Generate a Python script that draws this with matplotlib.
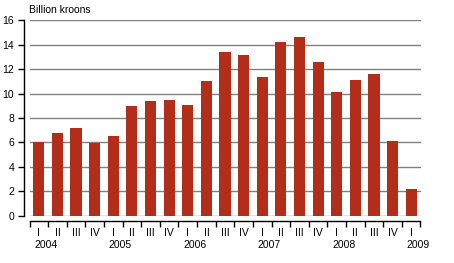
import numpy as np
import matplotlib
matplotlib.use("Agg")
import matplotlib.pyplot as plt
from matplotlib.transforms import blended_transform_factory

plt.rcParams['font.family'] = ['Liberation Sans', 'DejaVu Sans']
plt.rcParams['font.size'] = 7.5

# quarterly values, billion kroons, 2004 Q1 .. 2009 Q1
values = [6.0, 6.8, 7.2, 5.95, 6.5, 8.95, 9.35, 9.45, 9.05, 11.0, 13.4, 13.15,
          11.35, 14.2, 14.6, 12.55, 10.1, 11.1, 11.6, 6.1, 2.15]
quarters = ["I", "II", "III", "IV"] * 5 + ["I"]
years = ["2004", "2005", "2006", "2007", "2008", "2009"]
yticks = [0, 2, 4, 6, 8, 10, 12, 14, 16]

W, H = 454, 263
fig = plt.figure(figsize=(W / 100, H / 100), dpi=100)
ax = fig.add_axes([29.5 / W, 1 - 215.5 / H, 391 / W, 195.2 / H])

x = np.arange(len(values))
ax.bar(x, values, width=0.6, color="#B22E1A", zorder=3)

ax.set_xlim(-0.5, len(values) - 0.5)
ax.set_ylim(0, 16)
ax.set_yticks(yticks)
ax.yaxis.grid(True, color="#808080", linewidth=1.0)
ax.set_axisbelow(True)

for s in ["top", "right"]:
    ax.spines[s].set_visible(False)
ax.spines["left"].set_position(("outward", 4))
ax.spines["bottom"].set_position(("outward", 4))
ax.spines["left"].set_linewidth(1.0)
ax.spines["bottom"].set_linewidth(1.0)

# boundary ticks on x axis, labels drawn as text
ax.set_xticks(np.arange(-0.5, len(values), 1.0))
ax.set_xticklabels([])
ax.tick_params(axis="x", length=4, width=1, direction="out")
ax.tick_params(axis="y", length=4, width=1, direction="out", pad=3, labelsize=7.5)

tr = blended_transform_factory(ax.transData, ax.transAxes)
for i, q in enumerate(quarters):
    ax.text(i, -0.088, q, transform=tr, ha="center", va="center", fontsize=7.5)
for k, yr in enumerate(years):
    ax.text(4 * k + 0.37, -0.151, yr, transform=tr, ha="center", va="center",
            fontsize=7.5, clip_on=False)

fig.text(29 / W, 1 - 10 / H, "Billion kroons", ha="left", va="center", fontsize=7.5)

fig.savefig("out.png", dpi=100)
